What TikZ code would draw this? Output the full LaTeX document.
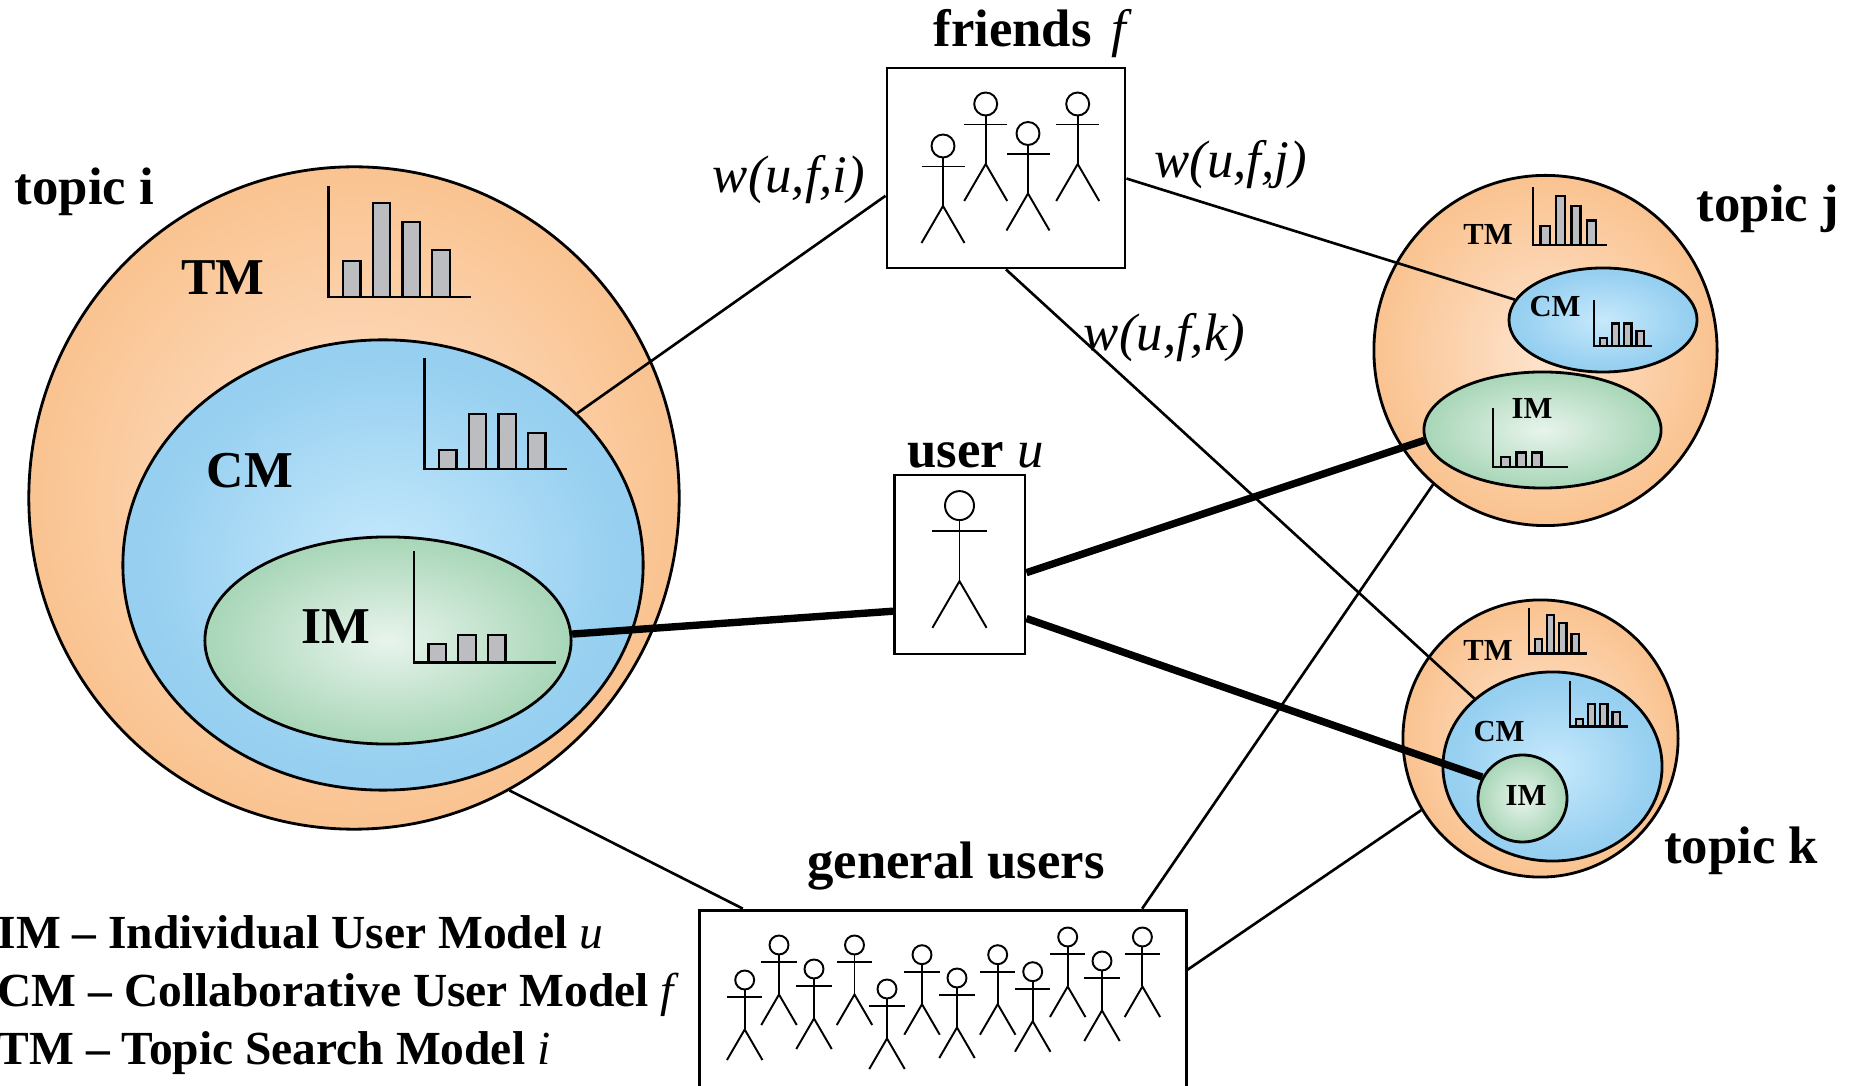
\documentclass[tikz,border=0pt]{standalone}
\usepackage{fontspec}
\setmainfont{Liberation Serif}
\usetikzlibrary{positioning, shapes}

\definecolor{orangeinner}{RGB}{254,228,206}
\definecolor{orangeouter}{RGB}{250,196,146}
\definecolor{blueinner}{RGB}{198,233,252}
\definecolor{blueouter}{RGB}{150,207,240}
\definecolor{greeninner}{RGB}{232,244,236}
\definecolor{greenouter}{RGB}{170,215,185}
\definecolor{bargray}{RGB}{187,189,192}

\pgfdeclareradialshading{orangeball}{\pgfpoint{0bp}{0bp}}{color(0bp)=(orangeinner); color(24bp)=(orangeouter); color(50bp)=(orangeouter)}
\pgfdeclareradialshading{blueball}{\pgfpoint{0bp}{0bp}}{color(0bp)=(blueinner); color(23bp)=(blueouter); color(50bp)=(blueouter)}
\pgfdeclareradialshading{greenball}{\pgfpoint{0bp}{0bp}}{color(0bp)=(greeninner); color(24bp)=(greenouter); color(50bp)=(greenouter)}

\tikzset{
    ballsize/.style 2 args={minimum width=#1cm, minimum height=#2cm},
    orangenode/.style={ellipse, draw=black, line width=0.8pt, inner sep=0pt, shade, shading=orangeball},
    bluenode/.style={ellipse, draw=black, line width=0.8pt, inner sep=0pt, shade, shading=blueball},
    greennode/.style={ellipse, draw=black, line width=0.8pt, inner sep=0pt, shade, shading=greenball},
    groupbox/.style={rectangle, draw=black, line width=0.8pt, inner sep=0pt, fill=white},
    thinlink/.style={line width=0.75pt},
    thicklink/.style={line width=2.1pt},
    bigmodel/.style={inner sep=0pt, font=\fontsize{14.7}{17}\selectfont\bfseries},
    smallmodel/.style={inner sep=0pt, font=\fontsize{8.7}{10}\selectfont\bfseries},
    mytitle/.style={inner sep=0pt, font=\fontsize{15}{18}\selectfont\bfseries},
    myweight/.style={inner sep=0pt, font=\fontsize{15}{17}\selectfont\itshape},
    mylegend/.style={inner sep=0pt, anchor=base west, font=\fontsize{13.5}{16}\selectfont\bfseries},
    manline/.style={line width=0.55pt},
    chartaxis/.style={line width=0.7pt},
    chartbar/.style={draw=black, line width=0.65pt, fill=bargray}
}

% x, y of the axis corner, scale, bar heights
\newcommand{\minichart}[4]{
    \begin{scope}[shift={(#1,#2)}, scale=#3]
        \foreach \barnum/\barheight in #4 {
            \draw[chartbar] ({14.5+29.7*\barnum},0) rectangle ({32+29.7*\barnum},-\barheight);
        }
        \draw[chartaxis] (0,-111) -- (0,0) -- (142,0);
    \end{scope}
}

% x, y of the head, scale
\newcommand{\stickman}[3]{
    \begin{scope}[shift={(#1,#2)}, scale=#3]
        \draw[manline] (0,0) circle (11.5);
        \draw[manline] (0,11.5) -- (0,60);
        \draw[manline] (-21.5,20.5) -- (21.5,20.5);
        \draw[manline] (-21.5,97) -- (0,60) -- (21.5,97);
    \end{scope}
}

\newcommand{\tmbars}{0/36, 1/94, 2/75, 3/47}
\newcommand{\cmbars}{0/19, 1/55, 2/55, 3/36}
\newcommand{\imbars}{0/18.5, 1/27.5, 2/27.5}

\begin{document}
\begin{tikzpicture}[x=0.01cm, y=-0.01cm]
        \path[use as bounding box, clip] (0,0) rectangle (1851,1086);

        % ------------------
        % nodes
        % ------------------

        \node[orangenode, ballsize={6.50}{6.62}] (topici) at (354,498) {};
        \node[bluenode, ballsize={5.20}{4.50}] (cmi) at (383,565) {};
        \node[greennode, ballsize={3.66}{2.07}] (imi) at (388,640.5) {};

        \node[orangenode, ballsize={3.43}{3.50}] (topicj) at (1545.5,350.5) {};
        \node[bluenode, ballsize={1.88}{1.04}] (cmj) at (1603,320) {};
        \node[greennode, ballsize={2.37}{1.16}] (imj) at (1542.5,430) {};

        \node[orangenode, ballsize={2.75}{2.77}] (topick) at (1540.5,738.5) {};
        \node[bluenode, ballsize={2.19}{1.89}] (cmk) at (1552.5,766.5) {};
        \node[greennode, ballsize={0.89}{0.87}] (imk) at (1522.5,798.5) {};

        \node[groupbox, minimum width=2.38cm, minimum height=2.00cm] (friends) at (1006,168) {};
        \node[groupbox, minimum width=1.305cm, minimum height=1.79cm] (user) at (959.75,564.5) {};
        \node[groupbox, minimum width=4.86cm, minimum height=2.00cm, anchor=north] (general) at (943,908.7) {};

        \node[mytitle] (topicilabel) at (84.5,192) {topic i};
        \node[mytitle] (topicjlabel) at (1768,209) {topic j};
        \node[mytitle] (topicklabel) at (1741,851) {topic k};
        \node[mytitle, above=0.08cm of friends, xshift=0.24cm] (friendslabel) {friends\hspace{0.2cm}{\mdseries\itshape f}};
        \node[mytitle, above=0.05cm of user, xshift=0.16cm] (userlabel) {user {\mdseries\itshape u}};
        \node[mytitle, above=0.18cm of general, xshift=0.13cm] (generallabel) {general users};

        \node[bigmodel] (tmilabel) at (223,278) {TM};
        \node[bigmodel] (cmilabel) at (250,470.6) {CM};
        \node[bigmodel] (imilabel) at (336,627) {IM};
        \node[smallmodel] (tmjlabel) at (1488,234.5) {TM};
        \node[smallmodel] (cmjlabel) at (1555,307) {CM};
        \node[smallmodel] (imjlabel) at (1532,408) {IM};
        \node[smallmodel] (tmklabel) at (1488,650) {TM};
        \node[smallmodel] (cmklabel) at (1499,732) {CM};
        \node[smallmodel] (imklabel) at (1526,795.5) {IM};

        \node[myweight] (weighti) at (789,180) {w(u,f,i)};
        \node[myweight] (weightj) at (1230.5,165) {w(u,f,j)};
        \node[myweight] (weightk) at (1164.5,338) {w(u,f,k)};

        \node[mylegend] (legendim) at (-3,949) {IM -- Individual User Model {\mdseries\itshape u}};
        \node[mylegend] (legendcm) at (-3,1006.5) {CM -- Collaborative User Model {\mdseries\itshape f}};
        \node[mylegend] (legendtm) at (-3,1064.5) {TM -- Topic Search Model {\mdseries\itshape i}};

        % ------------------
        % charts
        % ------------------

        \minichart{328.6}{297}{1}{\tmbars}
        \minichart{424.5}{469}{1}{\cmbars}
        \minichart{414}{662.5}{1}{\imbars}
        \minichart{1533}{245}{0.52}{\tmbars}
        \minichart{1594}{346}{0.41}{\cmbars}
        \minichart{1493}{467}{0.53}{\imbars}
        \minichart{1529}{653.5}{0.41}{\tmbars}
        \minichart{1570}{726.5}{0.41}{\cmbars}

        % ------------------
        % people
        % ------------------

        \foreach \manx/\many in {943/146, 985.7/104, 1028/133.5, 1077.7/104} {
            \stickman{\manx}{\many}{1}
        }
        \stickman{959.5}{505.6}{1.26}
        \foreach \manx/\many in {744.7/980, 779/945, 814/969, 854.5/945, 887/989, 922/954.7, 957/978, 997.7/954.7, 1032.7/971.7, 1067.7/937, 1102/961, 1142.4/937} {
            \stickman{\manx}{\many}{0.825}
        }

        % ------------------
        % links
        % ------------------

        \draw[thinlink] (friends.193.7) -- (cmi.38.2);
        \draw[thinlink] (friends.355.2) -- (cmj.167);
        \draw[thinlink] (friends.south) -- (cmk.139);
        \draw[thinlink] ([xshift=-2cm]general.north) -- (topici.-62.5);
        \draw[thinlink] ([xshift=1.99cm]general.north) -- (topicj.230);
        \draw[thinlink] ([yshift=-0.61cm]general.north east) -- (topick.211);

        \draw[thicklink] (user.215) -- (imi.2.8);
        \draw[thicklink] (user.-7.4) -- (imj.185.8);
        \draw[thicklink] (user.-39.8) -- (imk.152);

\end{tikzpicture}
\end{document}
